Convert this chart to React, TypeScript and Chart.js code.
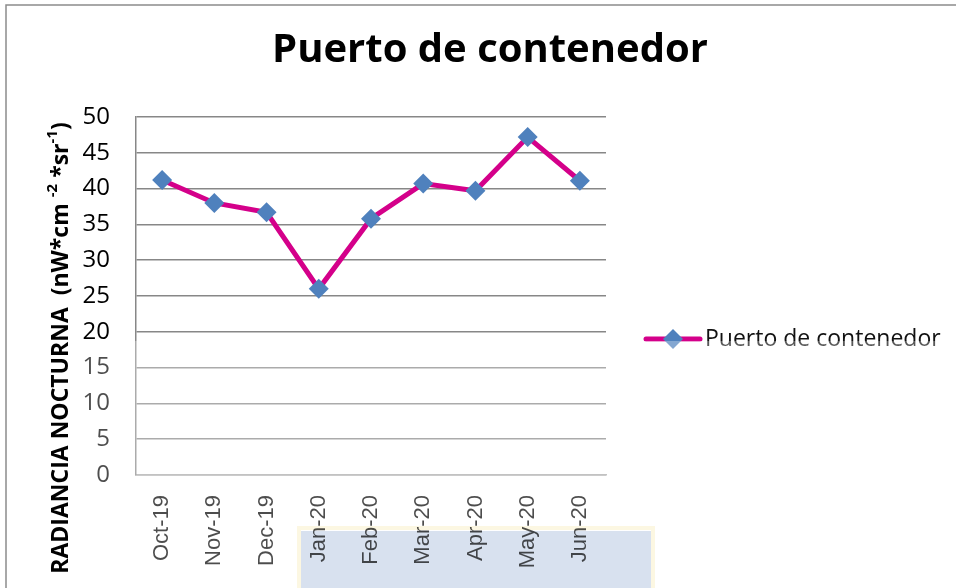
import React, { useEffect, useRef } from 'react';
import { Chart, registerables } from 'chart.js';

Chart.register(...registerables);

const categories = ['Oct-19', 'Nov-19', 'Dec-19', 'Jan-20', 'Feb-20', 'Mar-20', 'Apr-20', 'May-20', 'Jun-20'];
const seriesName = 'Puerto de contenedor';
const values = [41.2, 38.0, 36.7, 26.0, 35.8, 40.7, 39.7, 47.2, 41.1];
const chartTitle = 'Puerto de contenedor';
const yMin = 0;
const yMax = 50;
const yStep = 5;
const yTitleParts = [
  { text: 'RADIANCIA NOCTURNA  (nW*cm ', sup: false },
  { text: '-2', sup: true },
  { text: ' *sr', sup: false },
  { text: '-1', sup: true },
  { text: ')', sup: false },
];

const LINE_COLOR = '#D4008A';
const MARKER_COLOR = '#4F81BD';
const CAL = '"Open Sans", "Noto Sans", sans-serif';

const framePlugin = {
  id: 'frame',
  beforeDraw(chart: any) {
    const { ctx, width, height } = chart;
    ctx.save();
    ctx.fillStyle = '#ffffff';
    ctx.fillRect(0, 0, width, height);
    ctx.strokeStyle = '#8c8c8c';
    ctx.lineWidth = 1.5;
    ctx.beginPath();
    ctx.moveTo(6, height);
    ctx.lineTo(6, 5);
    ctx.lineTo(width, 5);
    ctx.stroke();
    ctx.restore();
  },
};

const yTitlePlugin = {
  id: 'yTitleSup',
  afterDraw(chart: any) {
    const { ctx } = chart;
    const size = 23;
    const supSize = 15;
    const main = `bold ${size}px ${CAL}`;
    const sup = `bold ${supSize}px ${CAL}`;
    ctx.save();
    let total = 0;
    for (const p of yTitleParts) {
      ctx.font = p.sup ? sup : main;
      total += ctx.measureText(p.text).width;
    }
    const cx = 61;
    const cy = 348;
    ctx.translate(cx, cy);
    ctx.rotate(-Math.PI / 2);
    ctx.fillStyle = '#000';
    ctx.textBaseline = 'middle';
    ctx.textAlign = 'left';
    let x = -total / 2;
    for (const p of yTitleParts) {
      ctx.font = p.sup ? sup : main;
      ctx.fillText(p.text, x, p.sup ? -8 : 0);
      x += ctx.measureText(p.text).width;
    }
    ctx.restore();
  },
};

const legendPlugin = {
  id: 'customLegend',
  afterDraw(chart: any) {
    const { ctx } = chart;
    const ds = chart.data.datasets[0];
    const y = 339;
    ctx.save();
    ctx.strokeStyle = ds.borderColor;
    ctx.lineWidth = 5;
    ctx.lineCap = 'round';
    ctx.beginPath();
    ctx.moveTo(646, y);
    ctx.lineTo(700, y);
    ctx.stroke();
    ctx.fillStyle = ds.pointBackgroundColor;
    const r = 10;
    const cx = 673;
    ctx.beginPath();
    ctx.moveTo(cx - r, y);
    ctx.lineTo(cx, y - r);
    ctx.lineTo(cx + r, y);
    ctx.lineTo(cx, y + r);
    ctx.closePath();
    ctx.fill();
    ctx.fillStyle = '#111';
    ctx.font = `23px ${CAL}`;
    ctx.textBaseline = 'middle';
    ctx.fillText(ds.label, 705, y);
    ctx.restore();
  },
};

const watermarkPlugin = {
  id: 'watermark',
  afterDraw(chart: any) {
    const { ctx, width, height } = chart;
    ctx.save();
    ctx.fillStyle = 'rgba(255,255,255,0.3)';
    ctx.fillRect(80, 341, width - 80, height - 341);
    ctx.globalCompositeOperation = 'multiply';
    ctx.strokeStyle = '#fcf7e2';
    ctx.lineWidth = 4;
    ctx.strokeRect(299, 528, 354, height - 528 + 10);
    ctx.fillStyle = '#d8e1ef';
    ctx.fillRect(301, 531, 350, height - 531);
    ctx.restore();
  },
};

export default function App() {
  const ref = useRef<HTMLCanvasElement | null>(null);
  useEffect(() => {
    if (!ref.current) return;
    const chart = new Chart(ref.current, {
      type: 'line',
      data: {
        labels: categories,
        datasets: [
          {
            label: seriesName,
            data: values,
            borderColor: LINE_COLOR,
            borderWidth: 5,
            pointStyle: 'rectRot',
            pointRadius: 10,
            pointHoverRadius: 10,
            pointBackgroundColor: MARKER_COLOR,
            pointBorderColor: MARKER_COLOR,
            pointBorderWidth: 0,
            tension: 0,
            xAxisID: 'x',
            yAxisID: 'y',
          },
        ],
      },
      options: {
        responsive: false,
        animation: false,
        layout: { padding: { left: 24, right: 0, top: 0, bottom: 0 } },
        plugins: {
          legend: { display: false },
          tooltip: { enabled: false },
          title: {
            display: true,
            text: chartTitle,
            color: '#000',
            font: { family: CAL, size: 40, weight: 'bold', lineHeight: 1.2 },
            padding: { top: 27, bottom: 42 },
          },
        },
        scales: {
          x: {
            offset: true,
            grid: { display: false, drawTicks: false },
            border: { color: '#a8a8a8', width: 1.5 },
            ticks: {
              minRotation: 90,
              maxRotation: 90,
              autoSkip: false,
              padding: 20,
              color: '#000',
              font: { family: '"Liberation Sans", Arial, sans-serif', size: 22 },
            },
            afterFit: (s: any) => {
              s.height = 113;
            },
          },
          y: {
            position: 'left',
            min: yMin,
            max: yMax,
            ticks: {
              stepSize: yStep,
              padding: 26,
              color: '#000',
              font: { family: CAL, size: 24 },
            },
            grid: { color: '#878787', lineWidth: 1.5, drawTicks: false },
            border: { color: '#878787', width: 1.5 },
            afterFit: (s: any) => {
              s.width = 112;
            },
          },
          side: {
            position: 'right',
            display: true,
            grid: { display: false, drawTicks: false },
            border: { display: false },
            ticks: { display: false },
            afterFit: (s: any) => {
              s.width = 350;
            },
          },
        },
      },
      plugins: [framePlugin, yTitlePlugin, legendPlugin, watermarkPlugin],
    } as any);
    return () => chart.destroy();
  }, []);
  return (
    <div style={{ position: 'fixed', left: 0, top: 0, width: 956, height: 588, background: '#fff' }}>
      <canvas ref={ref} width={956} height={588} style={{ display: 'block', width: 956, height: 588 }} />
    </div>
  );
}
